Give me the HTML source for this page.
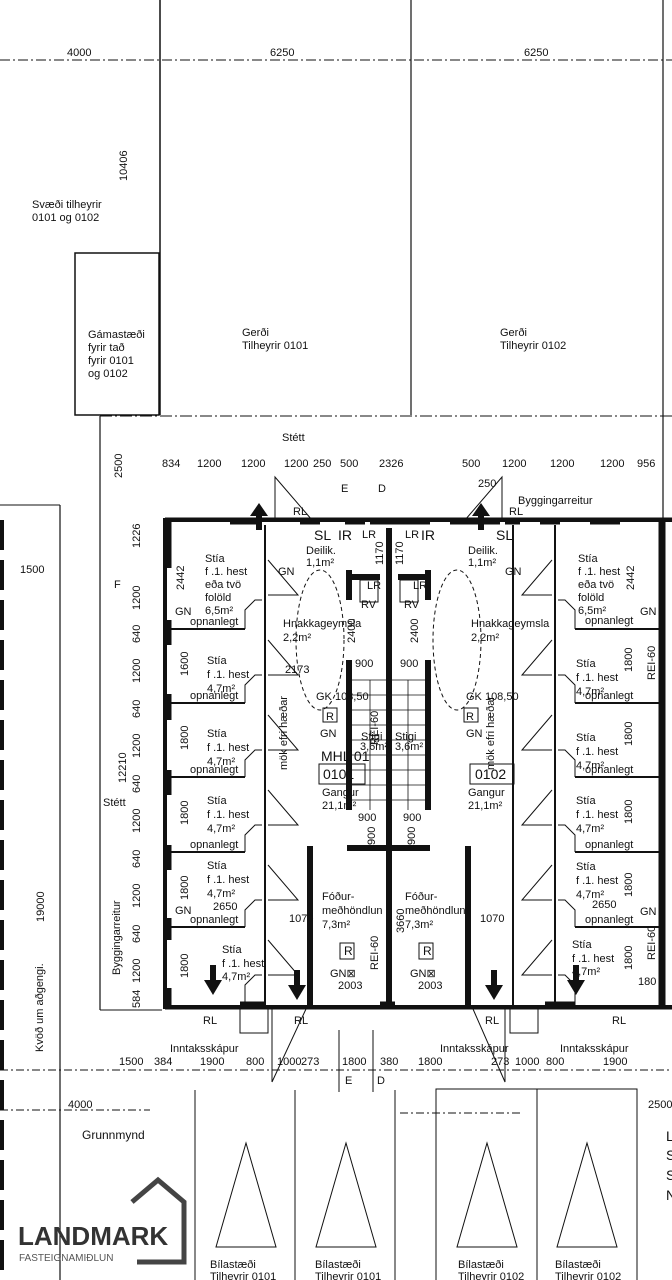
<!DOCTYPE html>
<html><head><meta charset="utf-8"><style>
html,body{margin:0;padding:0;background:#fff}
svg{display:block}
text{font-family:"Liberation Sans",sans-serif;fill:#111}
.s{font-size:11px}.m{font-size:12px}.l{font-size:14px}
</style></head><body>
<svg width="672" height="1280" viewBox="0 0 672 1280" xmlns="http://www.w3.org/2000/svg">
<g stroke="#111" fill="none" stroke-width="1">
<line x1="0" y1="60" x2="672" y2="60" stroke-dasharray="10,3,2,3"/>
<line x1="160" y1="0" x2="160" y2="415" stroke-width="1.5"/>
<line x1="411" y1="0" x2="411" y2="415" stroke-width="1.2"/>
<line x1="663" y1="0" x2="663" y2="520" stroke-width="1.2"/>
<rect x="75" y="253" width="84" height="162" stroke-width="1.5"/>
<line x1="100" y1="416" x2="672" y2="416" stroke-dasharray="12,3,2,3"/>
<line x1="100" y1="416" x2="100" y2="1010" stroke-width="1.2"/>
<line x1="100" y1="1010" x2="162" y2="1010"/>
<line x1="2" y1="520" x2="2" y2="1280" stroke-width="4" stroke-dasharray="30,10"/>
<line x1="0" y1="505" x2="60" y2="505"/>
<line x1="60" y1="505" x2="60" y2="1280" stroke-width="1.2"/>
<rect x="165" y="520" width="510" height="487" stroke-width="4"/>
<line x1="165" y1="518" x2="672" y2="518"/>
<line x1="165" y1="1009" x2="672" y2="1009"/>
<g stroke-width="7">
<line x1="168" y1="520" x2="168" y2="568"/><line x1="168" y1="620" x2="168" y2="645"/>
<line x1="168" y1="694" x2="168" y2="720"/><line x1="168" y1="770" x2="168" y2="795"/>
<line x1="168" y1="845" x2="168" y2="870"/><line x1="168" y1="918" x2="168" y2="940"/>
<line x1="168" y1="988" x2="168" y2="1007"/>
<line x1="662" y1="520" x2="662" y2="1007"/>
<line x1="230" y1="521" x2="260" y2="521"/><line x1="300" y1="521" x2="320" y2="521"/>
<line x1="345" y1="521" x2="365" y2="521"/><line x1="370" y1="521" x2="430" y2="521"/>
<line x1="450" y1="521" x2="500" y2="521"/><line x1="505" y1="521" x2="520" y2="521"/>
<line x1="540" y1="521" x2="560" y2="521"/><line x1="590" y1="521" x2="620" y2="521"/>
<line x1="240" y1="1005" x2="265" y2="1005"/><line x1="380" y1="1005" x2="395" y2="1005"/>
<line x1="545" y1="1005" x2="575" y2="1005"/>
</g>
<line x1="265" y1="525" x2="265" y2="1005" stroke-width="2"/>
<line x1="513" y1="525" x2="513" y2="1005" stroke-width="2"/>
<line x1="555" y1="525" x2="555" y2="1005" stroke-width="2"/>
<g stroke-width="2">
<line x1="170" y1="629" x2="245" y2="629"/><line x1="170" y1="703" x2="245" y2="703"/>
<line x1="170" y1="777" x2="245" y2="777"/><line x1="170" y1="852" x2="245" y2="852"/>
<line x1="170" y1="927" x2="245" y2="927"/>
<line x1="575" y1="629" x2="660" y2="629"/><line x1="575" y1="703" x2="660" y2="703"/>
<line x1="575" y1="777" x2="660" y2="777"/><line x1="575" y1="852" x2="660" y2="852"/>
<line x1="575" y1="927" x2="660" y2="927"/>
</g>
<g stroke-width="1">
<polyline points="268,560 298,595 268,595"/><polyline points="268,640 298,675 268,675"/>
<polyline points="268,715 298,750 268,750"/><polyline points="268,790 298,825 268,825"/>
<polyline points="268,865 298,900 268,900"/><polyline points="268,940 298,975 268,975"/>
<polyline points="552,560 522,595 552,595"/><polyline points="552,640 522,675 552,675"/>
<polyline points="552,715 522,750 552,750"/><polyline points="552,790 522,825 552,825"/>
<polyline points="552,865 522,900 552,900"/><polyline points="552,940 522,975 552,975"/>
<polyline points="245,629 245,610 255,600 262,600"/><polyline points="245,703 245,685 255,675 262,675"/>
<polyline points="245,777 245,760 255,750 262,750"/><polyline points="245,852 245,835 255,825 262,825"/>
<polyline points="245,927 245,910 255,900 262,900"/><polyline points="245,1005 245,985 255,975 262,975"/>
<polyline points="575,629 575,610 565,600 558,600"/><polyline points="575,703 575,685 565,675 558,675"/>
<polyline points="575,777 575,760 565,750 558,750"/><polyline points="575,852 575,835 565,825 558,825"/>
<polyline points="575,927 575,910 565,900 558,900"/><polyline points="575,1005 575,985 565,975 558,975"/>
<polyline points="275,520 275,477 312,520"/><polyline points="502,520 502,477 465,520"/>
<polyline points="302,1009 272,1008 272,1082"/><polyline points="272,1082 306,1009"/>
<polyline points="473,1009 505,1009 505,1082 473,1009"/>
</g>
<g stroke-width="6">
<line x1="389" y1="528" x2="389" y2="1005"/>
<line x1="349" y1="570" x2="349" y2="600"/><line x1="349" y1="660" x2="349" y2="810"/>
<line x1="428" y1="570" x2="428" y2="600"/><line x1="428" y1="660" x2="428" y2="810"/>
<line x1="350" y1="577" x2="380" y2="577"/><line x1="398" y1="577" x2="427" y2="577"/>
<line x1="347" y1="848" x2="430" y2="848"/>
<line x1="310" y1="846" x2="310" y2="1005"/><line x1="468" y1="846" x2="468" y2="1005"/>
</g>
<g stroke-width="0.8">
<line x1="352" y1="680" x2="386" y2="680"/><line x1="352" y1="695" x2="386" y2="695"/>
<line x1="352" y1="710" x2="386" y2="710"/><line x1="352" y1="725" x2="386" y2="725"/>
<line x1="352" y1="740" x2="386" y2="740"/><line x1="352" y1="755" x2="386" y2="755"/>
<line x1="352" y1="770" x2="386" y2="770"/><line x1="352" y1="785" x2="386" y2="785"/>
<line x1="352" y1="800" x2="386" y2="800"/>
<line x1="392" y1="680" x2="426" y2="680"/><line x1="392" y1="695" x2="426" y2="695"/>
<line x1="392" y1="710" x2="426" y2="710"/><line x1="392" y1="725" x2="426" y2="725"/>
<line x1="392" y1="740" x2="426" y2="740"/><line x1="392" y1="755" x2="426" y2="755"/>
<line x1="392" y1="770" x2="426" y2="770"/><line x1="392" y1="785" x2="426" y2="785"/>
<line x1="392" y1="800" x2="426" y2="800"/>
<line x1="370" y1="680" x2="370" y2="810"/><line x1="408" y1="680" x2="408" y2="810"/>
</g>
<ellipse cx="320" cy="640" rx="24" ry="70" stroke-dasharray="4,3"/>
<ellipse cx="457" cy="640" rx="24" ry="70" stroke-dasharray="4,3"/>
<rect x="360" y="580" width="18" height="22"/><rect x="400" y="580" width="18" height="22"/>
<rect x="319" y="764" width="46" height="20"/><rect x="470" y="764" width="44" height="20"/>
<rect x="323" y="708" width="14" height="14"/><rect x="464" y="708" width="14" height="14"/>
<rect x="340" y="943" width="14" height="16"/><rect x="419" y="943" width="14" height="16"/>
<rect x="240" y="1009" width="28" height="24"/><rect x="510" y="1009" width="28" height="24"/>
<line x1="339" y1="1030" x2="339" y2="1092"/><line x1="373" y1="1030" x2="373" y2="1092"/>
<line x1="0" y1="1070" x2="672" y2="1070" stroke-dasharray="8,3,2,3"/>
<line x1="0" y1="1110" x2="150" y2="1110" stroke-dasharray="8,3,2,3"/>
<line x1="400" y1="1113" x2="520" y2="1113" stroke-dasharray="8,3,2,3"/>
<line x1="195" y1="1090" x2="195" y2="1280"/><line x1="295" y1="1090" x2="295" y2="1280"/>
<line x1="395" y1="1090" x2="395" y2="1280"/>
<rect x="436" y="1089" width="201" height="200"/><line x1="537" y1="1089" x2="537" y2="1280"/>
<line x1="60" y1="1090" x2="60" y2="1280"/>
<polygon points="246,1143 216,1247 276,1247"/><polygon points="346,1143 316,1247 376,1247"/>
<polygon points="487,1143 457,1247 517,1247"/><polygon points="587,1143 557,1247 617,1247"/>
</g>
<g fill="#111">
<polygon points="259,503 250,516 256,516 256,530 262,530 262,516 268,516"/>
<polygon points="481,503 472,516 478,516 478,530 484,530 484,516 490,516"/>
<polygon points="213,995 204,980 210,980 210,965 216,965 216,980 222,980"/>
<polygon points="297,1000 288,985 294,985 294,970 300,970 300,985 306,985"/>
<polygon points="494,1000 485,985 491,985 491,970 497,970 497,985 503,985"/>
<polygon points="576,995 567,980 573,980 573,965 579,965 579,980 585,980"/>
</g>
<g>
<polyline points="132,1202 158,1180 184,1202 184,1262 137,1262" fill="none" stroke="#444" stroke-width="5"/>
<text x="18" y="1245" style="font-size:26px;font-weight:bold;fill:#333">LANDMARK</text>
<text x="19" y="1261" style="font-size:10px;fill:#555">FASTEIGNAMIÐLUN</text>
</g>
<g class="s">
<text x="67" y="56">4000</text><text x="270" y="56">6250</text><text x="524" y="56">6250</text>
<text x="127" y="181" transform="rotate(-90 127 181)">10406</text>
<text x="32" y="208">Svæði tilheyrir</text><text x="32" y="221">0101 og 0102</text>
<text x="88" y="338">Gámastæði</text><text x="88" y="351">fyrir tað</text><text x="88" y="364">fyrir 0101</text><text x="88" y="377">og 0102</text>
<text x="242" y="336">Gerði</text><text x="242" y="349">Tilheyrir 0101</text>
<text x="500" y="336">Gerði</text><text x="500" y="349">Tilheyrir 0102</text>
<text x="282" y="441">Stétt</text>
<text x="122" y="478" transform="rotate(-90 122 478)">2500</text>
<text x="162" y="467">834</text><text x="197" y="467">1200</text><text x="241" y="467">1200</text><text x="284" y="467">1200</text>
<text x="313" y="467">250</text><text x="340" y="467">500</text><text x="379" y="467">2326</text>
<text x="462" y="467">500</text><text x="502" y="467">1200</text><text x="550" y="467">1200</text><text x="600" y="467">1200</text><text x="637" y="467">956</text>
<text x="478" y="487">250</text>
<text x="341" y="492">E</text><text x="378" y="492">D</text>
<text x="518" y="504">Byggingarreitur</text>
<text x="293" y="515">RL</text><text x="509" y="515">RL</text>
<text x="20" y="573">1500</text>
<text x="140" y="548" transform="rotate(-90 140 548)">1226</text>
<text x="140" y="610" transform="rotate(-90 140 610)">1200</text>
<text x="140" y="643" transform="rotate(-90 140 643)">640</text>
<text x="140" y="683" transform="rotate(-90 140 683)">1200</text>
<text x="140" y="718" transform="rotate(-90 140 718)">640</text>
<text x="140" y="758" transform="rotate(-90 140 758)">1200</text>
<text x="140" y="793" transform="rotate(-90 140 793)">640</text>
<text x="140" y="833" transform="rotate(-90 140 833)">1200</text>
<text x="140" y="868" transform="rotate(-90 140 868)">640</text>
<text x="140" y="908" transform="rotate(-90 140 908)">1200</text>
<text x="140" y="943" transform="rotate(-90 140 943)">640</text>
<text x="140" y="983" transform="rotate(-90 140 983)">1200</text>
<text x="140" y="1008" transform="rotate(-90 140 1008)">584</text>
<text x="126" y="783" transform="rotate(-90 126 783)">12210</text>
<text x="103" y="806">Stétt</text>
<text x="120" y="975" transform="rotate(-90 120 975)">Byggingarreitur</text>
<text x="44" y="922" transform="rotate(-90 44 922)">19000</text>
<text x="43" y="1052" transform="rotate(-90 43 1052)">Kvöð um aðgengi.</text>
<text x="114" y="588">F</text>
<text x="205" y="562">Stía</text><text x="205" y="575">f .1. hest</text><text x="205" y="588">eða tvö</text><text x="205" y="601">folöld</text><text x="205" y="614">6,5m²</text>
<text x="184" y="590" transform="rotate(-90 184 590)">2442</text>
<text x="175" y="615">GN</text><text x="190" y="625">opnanlegt</text>
<text x="207" y="664">Stía</text><text x="207" y="678">f .1. hest</text><text x="207" y="692">4,7m²</text>
<text x="188" y="676" transform="rotate(-90 188 676)">1600</text>
<text x="190" y="699">opnanlegt</text>
<text x="207" y="737">Stía</text><text x="207" y="751">f .1. hest</text><text x="207" y="765">4,7m²</text>
<text x="188" y="750" transform="rotate(-90 188 750)">1800</text>
<text x="190" y="773">opnanlegt</text>
<text x="207" y="804">Stía</text><text x="207" y="818">f .1. hest</text><text x="207" y="832">4,7m²</text>
<text x="188" y="825" transform="rotate(-90 188 825)">1800</text>
<text x="190" y="848">opnanlegt</text>
<text x="207" y="869">Stía</text><text x="207" y="883">f .1. hest</text><text x="207" y="897">4,7m²</text>
<text x="213" y="910">2650</text>
<text x="188" y="900" transform="rotate(-90 188 900)">1800</text>
<text x="175" y="914">GN</text><text x="190" y="923">opnanlegt</text>
<text x="222" y="953">Stía</text><text x="222" y="967">f .1. hest</text><text x="222" y="980">4,7m²</text>
<text x="188" y="978" transform="rotate(-90 188 978)">1800</text>
<text x="203" y="1024">RL</text>
<text x="314" y="540" class="l">SL</text><text x="338" y="540" class="l">IR</text>
<text x="306" y="554">Deilik.</text><text x="306" y="566">1,1m²</text>
<text x="278" y="575">GN</text>
<text x="383" y="565" transform="rotate(-90 383 565)">1170</text>
<text x="362" y="538">LR</text><text x="405" y="538">LR</text>
<text x="367" y="589">LR</text><text x="413" y="589">LR</text>
<text x="361" y="608">RV</text><text x="404" y="608">RV</text>
<text x="355" y="643" transform="rotate(-90 355 643)">2400</text>
<text x="418" y="643" transform="rotate(-90 418 643)">2400</text>
<text x="283" y="627">Hnakkageymsla</text><text x="283" y="641">2,2m²</text>
<text x="471" y="627">Hnakkageymsla</text><text x="471" y="641">2,2m²</text>
<text x="285" y="673">2173</text>
<text x="355" y="667">900</text><text x="400" y="667">900</text>
<text x="316" y="700">GK 108,50</text><text x="466" y="700">GK 108,50</text>
<text x="326" y="720">R</text><text x="466" y="720">R</text>
<text x="320" y="737">GN</text><text x="466" y="737">GN</text>
<text x="378" y="745" transform="rotate(-90 378 745)">REI-60</text>
<text x="361" y="740">Stigi</text><text x="395" y="740">Stigi</text>
<text x="360" y="750">3,6m²</text><text x="395" y="750">3,6m²</text>
<text x="287" y="770" transform="rotate(-90 287 770)">mök efri hæðar</text>
<text x="494" y="770" transform="rotate(-90 494 770)">mök efri hæðar</text>
<text x="321" y="761" class="l">MHL 01</text>
<text x="323" y="779" class="l">0101</text><text x="475" y="779" class="l">0102</text>
<text x="322" y="796">Gangur</text><text x="322" y="809">21,1m²</text>
<text x="468" y="796">Gangur</text><text x="468" y="809">21,1m²</text>
<text x="358" y="821">900</text><text x="403" y="821">900</text>
<text x="375" y="845" transform="rotate(-90 375 845)">900</text>
<text x="415" y="845" transform="rotate(-90 415 845)">900</text>
<text x="289" y="922">1070</text><text x="480" y="922">1070</text>
<text x="322" y="900">Fóður-</text><text x="322" y="914">meðhöndlun</text><text x="322" y="928">7,3m²</text>
<text x="405" y="900">Fóður-</text><text x="405" y="914">meðhöndlun</text><text x="405" y="928">7,3m²</text>
<text x="404" y="933" transform="rotate(-90 404 933)">3660</text>
<text x="378" y="970" transform="rotate(-90 378 970)">REI-60</text>
<text x="344" y="955" class="m">R</text><text x="423" y="955" class="m">R</text>
<text x="330" y="977">GN⊠</text><text x="410" y="977">GN⊠</text>
<text x="338" y="989">2003</text><text x="418" y="989">2003</text>
<text x="294" y="1024">RL</text><text x="485" y="1024">RL</text>
<text x="170" y="1052">Inntaksskápur</text><text x="440" y="1052">Inntaksskápur</text><text x="560" y="1052">Inntaksskápur</text>
<text x="119" y="1065">1500</text><text x="154" y="1065">384</text><text x="200" y="1065">1900</text><text x="246" y="1065">800</text>
<text x="277" y="1065">1000</text><text x="301" y="1065">273</text><text x="342" y="1065">1800</text><text x="380" y="1065">380</text>
<text x="418" y="1065">1800</text><text x="491" y="1065">273</text><text x="515" y="1065">1000</text><text x="546" y="1065">800</text><text x="603" y="1065">1900</text>
<text x="345" y="1084">E</text><text x="377" y="1084">D</text>
<text x="68" y="1108">4000</text><text x="648" y="1108">2500</text>
<text x="82" y="1139" class="m">Grunnmynd</text>
<text x="210" y="1268">Bílastæði</text><text x="210" y="1280">Tilheyrir 0101</text>
<text x="315" y="1268">Bílastæði</text><text x="315" y="1280">Tilheyrir 0101</text>
<text x="458" y="1268">Bílastæði</text><text x="458" y="1280">Tilheyrir 0102</text>
<text x="555" y="1268">Bílastæði</text><text x="555" y="1280">Tilheyrir 0102</text>
<text x="666" y="1141" class="l">L</text><text x="666" y="1160" class="l">S</text><text x="666" y="1180" class="l">S</text><text x="666" y="1200" class="l">N</text>
<text x="496" y="540" class="l">SL</text><text x="421" y="540" class="l">IR</text>
<text x="468" y="554">Deilik.</text><text x="468" y="566">1,1m²</text>
<text x="505" y="575">GN</text>
<text x="403" y="565" transform="rotate(-90 403 565)">1170</text>
<text x="578" y="562">Stía</text><text x="578" y="575">f .1. hest</text><text x="578" y="588">eða tvö</text><text x="578" y="601">folöld</text><text x="578" y="614">6,5m²</text>
<text x="634" y="590" transform="rotate(-90 634 590)">2442</text>
<text x="640" y="615">GN</text><text x="585" y="624">opnanlegt</text>
<text x="576" y="667">Stía</text><text x="576" y="681">f .1. hest</text><text x="576" y="695">4,7m²</text>
<text x="632" y="672" transform="rotate(-90 632 672)">1800</text>
<text x="585" y="699">opnanlegt</text>
<text x="576" y="741">Stía</text><text x="576" y="755">f .1. hest</text><text x="576" y="769">4,7m²</text>
<text x="632" y="746" transform="rotate(-90 632 746)">1800</text>
<text x="585" y="773">opnanlegt</text>
<text x="576" y="804">Stía</text><text x="576" y="818">f .1. hest</text><text x="576" y="832">4,7m²</text>
<text x="632" y="824" transform="rotate(-90 632 824)">1800</text>
<text x="585" y="848">opnanlegt</text>
<text x="576" y="870">Stía</text><text x="576" y="884">f .1. hest</text><text x="576" y="898">4,7m²</text>
<text x="592" y="908">2650</text>
<text x="632" y="897" transform="rotate(-90 632 897)">1800</text>
<text x="640" y="915">GN</text><text x="585" y="923">opnanlegt</text>
<text x="572" y="948">Stía</text><text x="572" y="962">f .1. hest</text><text x="572" y="975">4,7m²</text>
<text x="632" y="970" transform="rotate(-90 632 970)">1800</text>
<text x="638" y="985">180</text>
<text x="655" y="680" transform="rotate(-90 655 680)">REI-60</text>
<text x="655" y="960" transform="rotate(-90 655 960)">REI-60</text>
<text x="612" y="1024">RL</text>
</g>
</svg>
</body></html>
